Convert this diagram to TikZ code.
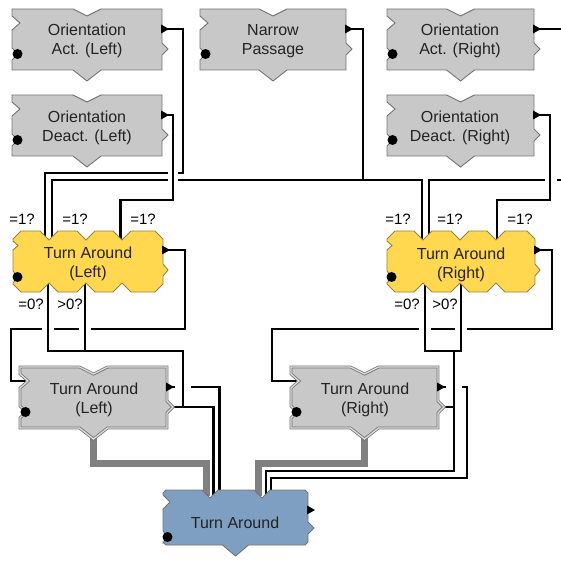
\documentclass[tikz,border=0pt]{standalone}
\usepackage{fontspec}
\setmainfont{Liberation Sans}
\pgfdeclarelayer{wires}
\pgfsetlayers{wires,main}
\definecolor{blkgray}{RGB}{200,200,200}
\definecolor{edgegray}{RGB}{115,115,115}
\definecolor{blkyellow}{RGB}{255,216,80}
\definecolor{edgeyellow}{RGB}{150,130,70}
\definecolor{blkblue}{RGB}{127,159,194}
\definecolor{wiregray}{RGB}{128,128,128}
\definecolor{txtcol}{RGB}{35,35,35}
% plain / double-bordered block: name, x, y, w, h, style
\newcommand\plainblock[6]{%
 \begin{scope}[shift={(#2,#3)}]
  \draw[#6] (0,0) -- ({#4/2-14},0) -- ({#4/2},7) -- ({#4/2+14},0) -- (#4,0) -- (#4,34) -- ({#4+6},40) -- (#4,46) -- (#4,#5) -- ({#4/2+14},#5) -- ({#4/2},{#5+11}) -- ({#4/2-14},#5) -- (0,#5) -- (0,51) -- (6,45) -- (0,39) -- (0,21) -- (8,14) -- (0,7) -- cycle;
  \fill ({#4-1},15.5) -- ({#4+7},20) -- ({#4-1},24.5) -- cycle;
  \fill (5.5,45) circle (5);
  \coordinate (#1-out) at ({#4+2},20);
  \coordinate (#1-in) at ({#4+5},40);
  \coordinate (#1-left) at (7,14);
  \coordinate (#1-bot) at ({#4/2},{#5+9});
 \end{scope}}
% yellow scalloped block: name, x, y (valley line), w
\newcommand\yellowblock[4]{%
 \begin{scope}[shift={(#2,#3)}]
  \draw[yblk] (0,-1) -- (8,-9) -- (27,-9) -- (36,0) -- (45,-9) -- (64,-9) -- (73,0) -- (82,-9) -- (100,-9) -- (109,0) -- (118,-9) -- ({#4-8},-9) -- (#4,-1) -- (#4,24) -- ({#4+5},30) -- (#4,36) -- (#4,44) -- ({#4-8},52) -- (118,52) -- (109,43) -- (100,52) -- (82,52) -- (73,43) -- (64,52) -- (45,52) -- (36,43) -- (27,52) -- (8,52) -- (0,44) -- (0,43) -- (5,37) -- (0,31) -- (0,10) -- (5,5.5) -- (0,1) -- cycle;
  \fill ({#4-1},5.5) -- ({#4+7},10) -- ({#4-1},14.5) -- cycle;
  \fill (4.5,37) circle (5);
  \coordinate (#1-v1) at (36,0);
  \coordinate (#1-v3) at (109,0);
  \coordinate (#1-b1) at (36,43);
  \coordinate (#1-b2) at (73,43);
  \coordinate (#1-out) at ({#4+2},10);
 \end{scope}}
% blue block: name, x, y, w, h
\newcommand\blueblock[5]{%
 \begin{scope}[shift={(#2,#3)}]
  \draw[bblk] (0,3) -- (3,0) -- (39,0) -- (47,8) -- (55,0) -- (91,0) -- (99,8) -- (107,0) -- ({#4-3},0) -- (#4,3) -- (#4,32) -- ({#4+6},38) -- (#4,44) -- (#4,{#5-3}) -- ({#4-3},#5) -- ({#4/2+13},#5) -- ({#4/2},{#5+11}) -- ({#4/2-13},#5) -- (3,#5) -- (0,{#5-3}) -- (0,53) -- (5,47) -- (0,41) -- (0,19) -- (7,12) -- (0,5) -- cycle;
  \fill ({#4-1},15.5) -- ({#4+7},20) -- ({#4-1},24.5) -- cycle;
  \fill (4.5,47) circle (5);
  \coordinate (#1-n1) at (47,6);
  \coordinate (#1-n2) at (99,6);
 \end{scope}}
\begin{document}
\begin{tikzpicture}[x=1pt,y=-1pt,
  wire/.style={line width=2.6pt, black},
  gwire/.style={line width=7pt, wiregray},
  mask/.style={line width=12pt, white},
  wmask/.style={line width=16pt, white},
  gblk/.style={fill=blkgray, draw=edgegray, line width=0.9pt},
  dblk/.style={fill=blkgray, draw=edgegray, double=blkgray!60!white, double distance=1.3pt, line width=0.8pt},
  yblk/.style={fill=blkyellow, draw=edgeyellow, line width=0.9pt},
  bblk/.style={fill=blkblue, draw=edgegray, line width=0.9pt},
  txt/.style={font=\fontsize{16}{18.5}\selectfont, text=txtcol, align=center, inner sep=0pt},
  lbl/.style={font=\fontsize{15}{17}\selectfont, text=black, inner sep=0pt}]
\useasboundingbox (0,0) rectangle (561,561);
% blocks
\plainblock{oal}{12}{9}{150}{61}{gblk}
\plainblock{np}{200}{9}{146}{61}{gblk}
\plainblock{oar}{387}{9}{147}{61}{gblk}
\plainblock{odl}{12}{95}{150}{61}{gblk}
\plainblock{odr}{387}{95}{147}{61}{gblk}
\yellowblock{tal}{13}{240}{150}
\yellowblock{tar}{387}{240}{148}
\plainblock{talg}{20}{367}{147}{61}{dblk}
\plainblock{targ}{291}{367}{147}{61}{dblk}
\blueblock{ta}{163}{490}{145}{55}
\coordinate (edgeA) at (563,29);
\coordinate (edgeB) at (563,180);
% texts
\node[txt] (oal) at (87,41) {Orientation\\Act. (Left)};
\node[txt] (np) at (273,41) {Narrow\\Passage};
\node[txt] (oar) at (460,41) {Orientation\\Act. (Right)};
\node[txt] (odl) at (87,128) {Orientation\\Deact. (Left)};
\node[txt] (odr) at (460,128) {Orientation\\Deact. (Right)};
\node[txt] (tal) at (88,264) {Turn Around\\(Left)};
\node[txt] (tar) at (461,265) {Turn Around\\(Right)};
\node[txt] (talg) at (94,400) {Turn Around\\(Left)};
\node[txt] (targ) at (365,400) {Turn Around\\(Right)};
\node[txt] (ta) at (235,523) {Turn Around};
% labels
\node[lbl] (l1) at (22,219) {=1?};
\node[lbl] (l2) at (75,219) {=1?};
\node[lbl] (l3) at (143,219) {=1?};
\node[lbl] (l4) at (31,304) {=0?};
\node[lbl] (l5) at (70,304) {>0?};
\node[lbl] (r1) at (398,219) {=1?};
\node[lbl] (r2) at (450,219) {=1?};
\node[lbl] (r3) at (520,219) {=1?};
\node[lbl] (r4) at (407,304) {=0?};
\node[lbl] (r5) at (445,304) {>0?};
% wires
\begin{pgfonlayer}{wires}
 \draw[wire] (oal-out) -| (183,173) -| ([xshift=-4pt]tal-v1);
 \draw[wire] (np-out) -| (363,180) -| ([xshift=3pt]tal-v1);
 \draw[wire] (363,180) -| ([xshift=-1pt]tar-v1);
 \draw[wire] (oar-out) -- (edgeA);
 \draw[wire] (edgeB) -| ([xshift=6pt]tar-v1);
 \draw[wire] (tal-out) -| (185,329) -- (11,329) |- (talg-left);
 \draw[wire] (tar-out) -| (552,329) -- (272,329) |- (targ-left);
 \draw[wire] (talg-out) -| ([xshift=9.5pt]ta-n1);
 \draw[wire] (targ-out) -| (467,478) -| ([xshift=9pt]ta-n2);
 \draw[gwire] (talg-bot) |- (206,463) -- ([xshift=-4pt]ta-n1);
 \draw[gwire] (targ-bot) |- (258,463) -- ([xshift=-4pt]ta-n2);
 % crossing gaps
 \draw[mask, line width=10pt] (173,167) -- (173,186);
 \draw[mask] (551,175) -- (551,185);
 \draw[mask] (48,324) -- (48,334);
 \draw[mask] (85,324) -- (85,334);
 \draw[mask] (425,324) -- (425,334);
 \draw[mask] (461,324) -- (461,334);
 \draw[wmask] (183,382) -- (183,393);
 \draw[wmask] (454,382) -- (454,393);
 % wires drawn over the gaps
 \draw[wire] (odl-out) -| (173,200) -| ([xshift=-1.5pt]tal-v3);
 \draw[wire] (odr-out) -| (550,200) -| ([xshift=1pt]tar-v3);
 \draw[wire] ([xshift=-1pt]tal-b1) |- (183,351) |- (talg-in);
 \draw[wire] ([xshift=-1pt]tal-b2) -- (85,351);
 \draw[wire] (talg-in) -| ([xshift=3.5pt]ta-n1);
 \draw[wire] ([xshift=2pt]tar-b1) |- (461,351) -- ([xshift=1pt]tar-b2);
 \draw[wire] (454,351) -- (454,471) -| ([xshift=4pt]ta-n2);
 \draw[wire] (targ-in) -- (454,407);
\end{pgfonlayer}
\end{tikzpicture}
\end{document}
